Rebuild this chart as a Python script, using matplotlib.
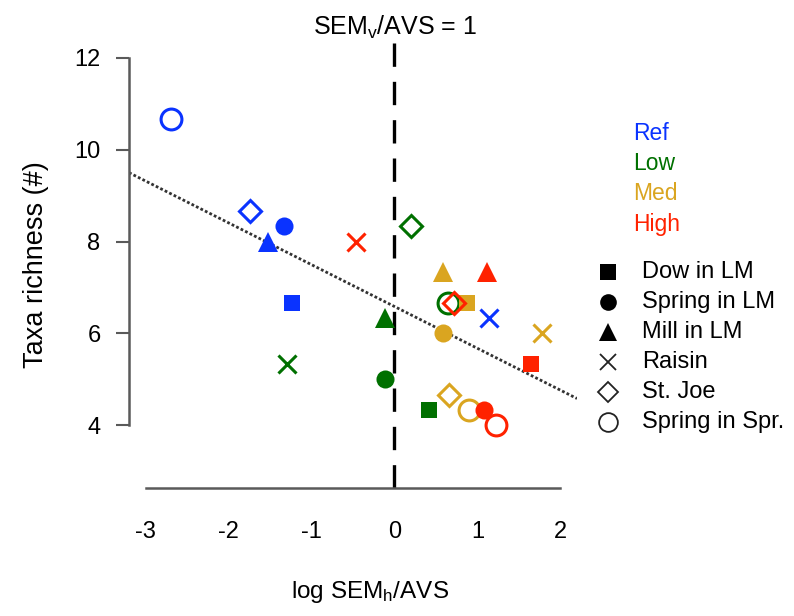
import matplotlib.pyplot as plt
import numpy as np
from matplotlib.lines import Line2D

plt.rcParams['font.family'] = ['Liberation Sans', 'DejaVu Sans']
plt.rcParams['mathtext.default'] = 'regular'
plt.rcParams['axes.unicode_minus'] = False

# sites (shape) and impact groups (colour)
sites = ['Dow in LM', 'Spring in LM', 'Mill in LM', 'Raisin', 'St. Joe', 'Spring in Spr.']
groups = ['Ref', 'Low', 'Med', 'High']

# log SEM_h/AVS per group, in site order
x_ref = [-1.24, -1.33, -1.52, 1.14, -1.74, -2.69]
x_low = [0.41, -0.12, -0.11, -1.30, 0.20, 0.64]
x_med = [0.88, 0.58, 0.58, 1.78, 0.66, 0.90]
x_high = [1.65, 1.08, 1.11, -0.47, 0.72, 1.22]

# taxa richness per group, in site order
y_ref = [6.67, 8.33, 8.0, 6.33, 8.67, 10.67]
y_low = [4.33, 5.0, 6.33, 5.33, 8.33, 6.67]
y_med = [6.67, 6.0, 7.33, 6.0, 4.67, 4.33]
y_high = [5.33, 4.33, 7.33, 8.0, 6.67, 4.0]

x_all = [x_ref, x_low, x_med, x_high]
y_all = [y_ref, y_low, y_med, y_high]

cols = ['#0a33ff', '#007000', '#daa520', '#ff2200']
# marker, size, filled
mk = [('s', 12, True), ('o', 13, True), ('^', 14, True),
      ('x', 13.5, False), ('D', 11.5, False), ('o', 15, False)]

fig = plt.figure(figsize=(7.94, 6.16), dpi=100)
ax = fig.add_axes([0.1625, 0.2078, 0.5642, 0.7256])

ax.axvline(0, color='black', lw=2.4, ls=(0, (7, 4.5)), zorder=1)

for g in range(4):
    for s in range(6):
        m, ms, filled = mk[s]
        if m == 'x':
            ax.plot(x_all[g][s], y_all[g][s], m, ms=ms, mew=2.2, color=cols[g], zorder=3)
        elif filled:
            ax.plot(x_all[g][s], y_all[g][s], m, ms=ms, mew=0, color=cols[g], zorder=3)
        else:
            ax.plot(x_all[g][s], y_all[g][s], m, ms=ms, mew=2.2, mfc='none',
                    mec=cols[g], zorder=3)

# linear fit through all points
xx = np.concatenate(x_all)
yy = np.concatenate(y_all)
b, a = np.polyfit(xx, yy, 1)
xl = np.array([-3.2, 2.2])
ax.plot(xl, a + b * xl, color='#333333', lw=2, ls=(0, (1, 0.8)), zorder=2)

ax.set_xlim(-3.2, 2.2)
ax.set_ylim(2.64, 12.36)
ax.set_xticks([-3, -2, -1, 0, 1, 2])
ax.set_yticks([4, 6, 8, 10, 12])
for sp in ['top', 'right']:
    ax.spines[sp].set_visible(False)
ax.spines['left'].set_bounds(4, 12)
ax.spines['bottom'].set_bounds(-3, 2)
for sp in ['left', 'bottom']:
    ax.spines[sp].set_color('#5a5a5a')
    ax.spines[sp].set_linewidth(1.8)
ax.tick_params(axis='y', length=9.5, width=1.5, color='#5a5a5a', pad=11, labelsize=17)
ax.tick_params(axis='x', length=0, pad=24, labelsize=17)

ax.set_ylabel('Taxa richness (#)', fontsize=19.5, labelpad=18)
fig.text(370 / 794, 1 - 592 / 616, 'log SEM$_h$/AVS', fontsize=17.5, ha='center', va='center')
ax.text(0, 1.0, 'SEM$_v$/AVS = 1', transform=ax.get_xaxis_transform(),
        fontsize=18, ha='center', va='bottom')

# colour legend
for i, g in enumerate(groups):
    fig.text(633 / 794, 1 - (133 + i * 30.5) / 616, g, color=cols[i], fontsize=16.5,
             ha='left', va='center')

# shape legend
for s in range(6):
    yf = 1 - (272 + s * 30) / 616
    m, ms, filled = mk[s]
    if filled:
        h = Line2D([608 / 794], [yf], marker=m, ms=ms - 1, mew=0, color='black',
                   transform=fig.transFigure)
    else:
        h = Line2D([608 / 794], [yf], marker=m, ms=ms - 1.5, mew=1.3, mfc='none',
                   color='#222222', transform=fig.transFigure)
    fig.add_artist(h)
    fig.text(642 / 794, yf, sites[s], fontsize=17, ha='left', va='center')

fig.savefig('out.png', dpi=100)
